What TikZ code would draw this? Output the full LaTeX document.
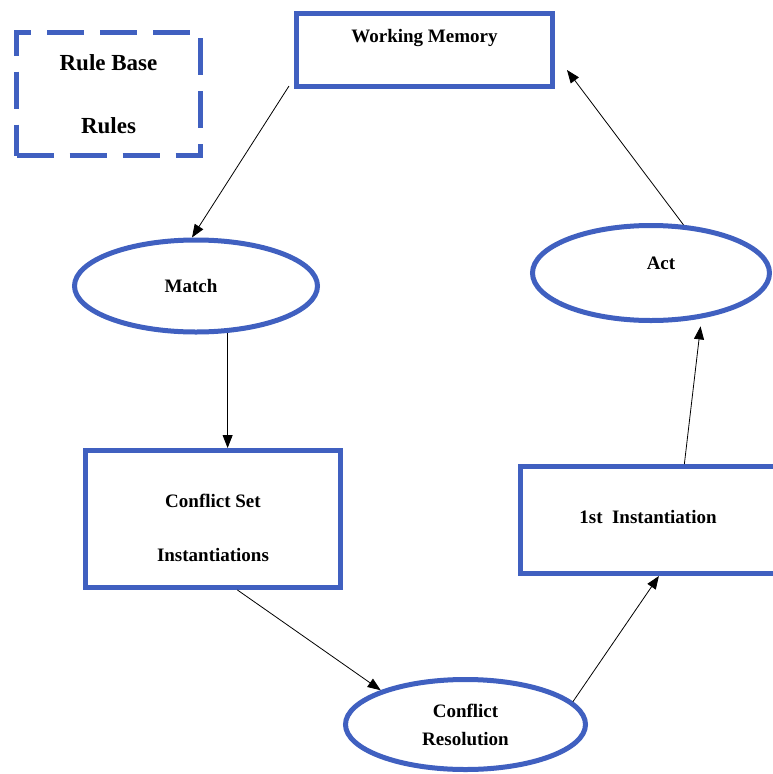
\documentclass[tikz,border=0pt]{standalone}
\usepackage{fontspec}
\setmainfont{Liberation Serif}
\usetikzlibrary{shapes.geometric,arrows.meta,calc}
\definecolor{bl}{RGB}{64,96,192}
\begin{document}
\begin{tikzpicture}[x=1pt,y=-1pt,
  box/.style={draw=bl,line width=5pt,rectangle,inner sep=0pt,align=center},
  oval/.style={draw=bl,line width=5pt,ellipse,inner sep=0pt,align=center},
  lbl/.style={font=\fontsize{19}{23}\selectfont\bfseries,text=black},
  arr/.style={line width=0.8pt,-{Triangle[length=13pt,width=10pt]}}]
\fill[white] (0,0) rectangle (772,774);
\useasboundingbox (0,0) rectangle (772,774);

\node (rb) [box, dash pattern=on 37pt off 16pt, minimum width=184pt, minimum height=123pt,
  font=\fontsize{23}{63}\selectfont\bfseries] at (108.5,94) {Rule Base\\Rules};

\node (wm) [box, lbl, minimum width=256pt, minimum height=73pt] at (424.5,50)
  {\raisebox{12pt}[\height][\depth]{Working Memory}};

\node (match) [oval, lbl, minimum width=243pt, minimum height=92pt] at (196,286)
  {\hspace*{-10pt}Match};

\node (act) [oval, lbl, minimum width=237pt, minimum height=95pt] at (651,273)
  {\raisebox{10pt}[\height][\depth]{\hspace*{20pt}Act}};

\node (cs) [box, minimum width=255pt, minimum height=137pt,
  font=\fontsize{19}{54}\selectfont\bfseries] at (213,519)
  {\raisebox{-9pt}[\height][\depth]{Conflict Set}\\\raisebox{-9pt}[\height][\depth]{Instantiations}};

\node (fi) [box, lbl, minimum width=255pt, minimum height=107pt] at (648,520)
  {\raisebox{3pt}[\height][\depth]{1st\ \ Instantiation}};

\node (cr) [oval, minimum width=240pt, minimum height=90pt,
  font=\fontsize{19}{28}\selectfont\bfseries] at (465.5,724.5)
  {Conflict\\Resolution};

\coordinate (wmin) at (567,70);

\draw[arr] ($(wm.south west)+(-5,-3)$) -- ($(match.north)+(-4,0)$);
\draw[arr] (match.-56) -- (match.-56 |- cs.north);
\draw[arr] (cs.-71) -- (cr.158);
\draw[arr] (cr.12) -- (fi.-79);
\draw[arr, shorten >=8pt] (fi.57) -- (act.-42);
\draw[arr] (act.56) -- (wmin);
\end{tikzpicture}
\end{document}
